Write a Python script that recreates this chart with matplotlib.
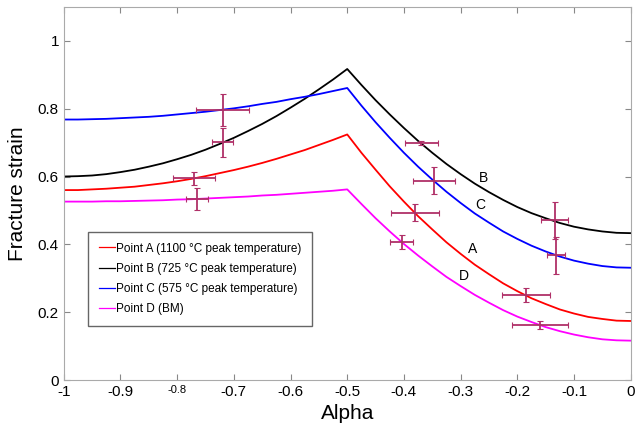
import matplotlib
matplotlib.use('Agg')
import matplotlib.pyplot as plt
import numpy as np

plt.rcParams.update({
    'font.family': ['Liberation Sans', 'DejaVu Sans'],
    'axes.unicode_minus': False,
})

# curve samples
ALPHA = [-1.0, -0.975, -0.95, -0.925, -0.9, -0.875, -0.85, -0.825, -0.8, -0.775,
         -0.75, -0.725, -0.7, -0.675, -0.65, -0.625, -0.6, -0.575, -0.55, -0.525,
         -0.5, -0.475, -0.45, -0.425, -0.4, -0.375, -0.35, -0.325, -0.3, -0.275,
         -0.25, -0.225, -0.2, -0.175, -0.15, -0.125, -0.1, -0.075, -0.05, -0.025, 0.0]
STRAIN_A = [0.560, 0.560, 0.562, 0.564, 0.567, 0.570, 0.575, 0.580, 0.586, 0.593,
            0.601, 0.610, 0.619, 0.629, 0.640, 0.652, 0.665, 0.678, 0.693, 0.708,
            0.724, 0.670, 0.620, 0.571, 0.526, 0.483, 0.444, 0.406, 0.372, 0.340,
            0.312, 0.285, 0.262, 0.241, 0.224, 0.208, 0.196, 0.186, 0.180, 0.175, 0.174]
STRAIN_B = [0.600, 0.601, 0.603, 0.607, 0.613, 0.620, 0.629, 0.639, 0.651, 0.664,
            0.679, 0.696, 0.714, 0.734, 0.755, 0.778, 0.803, 0.829, 0.857, 0.886,
            0.917, 0.870, 0.825, 0.783, 0.743, 0.705, 0.670, 0.637, 0.607, 0.579,
            0.554, 0.531, 0.510, 0.492, 0.477, 0.463, 0.452, 0.444, 0.438, 0.434, 0.433]
STRAIN_C = [0.768, 0.768, 0.769, 0.770, 0.772, 0.774, 0.776, 0.779, 0.783, 0.787,
            0.791, 0.796, 0.801, 0.807, 0.814, 0.820, 0.828, 0.835, 0.843, 0.852,
            0.861, 0.809, 0.760, 0.714, 0.670, 0.629, 0.591, 0.555, 0.522, 0.491,
            0.464, 0.438, 0.416, 0.396, 0.379, 0.364, 0.352, 0.343, 0.336, 0.332, 0.331]
STRAIN_D = [0.526, 0.526, 0.526, 0.527, 0.527, 0.528, 0.529, 0.530, 0.532, 0.533,
            0.535, 0.537, 0.539, 0.541, 0.544, 0.546, 0.549, 0.552, 0.555, 0.558,
            0.562, 0.519, 0.477, 0.438, 0.401, 0.367, 0.335, 0.304, 0.277, 0.251,
            0.228, 0.206, 0.187, 0.171, 0.156, 0.144, 0.134, 0.126, 0.120, 0.117, 0.116]

LABELS = ["Point A (1100 °C peak temperature)",
          "Point B (725 °C peak temperature)",
          "Point C (575 °C peak temperature)",
          "Point D (BM)"]
COLORS = ["#ff0000", "#000000", "#0000ff", "#ff00ff"]

# experimental points with error bars
EXP_X = [-0.72, -0.72, -0.77, -0.765, -0.369, -0.347, -0.381, -0.404, -0.134, -0.131, -0.185, -0.16]
EXP_Y = [0.796, 0.701, 0.595, 0.534, 0.698, 0.588, 0.493, 0.407, 0.471, 0.368, 0.250, 0.162]
EXP_XERR = [0.046, 0.018, 0.037, 0.019, 0.029, 0.037, 0.042, 0.020, 0.024, 0.016, 0.042, 0.050]
EXP_YERR = [0.047, 0.043, 0.019, 0.032, 0.006, 0.040, 0.025, 0.022, 0.054, 0.055, 0.020, 0.013]

CURVE_TAGS = ["B", "C", "A", "D"]
TAG_X = [-0.259, -0.265, -0.279, -0.294]
TAG_Y = [0.596, 0.515, 0.385, 0.307]

fig = plt.figure(figsize=(6.39, 4.33), dpi=100)
ax = fig.add_axes([0.0998, 0.1224, 0.8872, 0.8616])

for ys, lab, col in zip([STRAIN_A, STRAIN_B, STRAIN_C, STRAIN_D], LABELS, COLORS):
    ax.plot(ALPHA, ys, color=col, linewidth=1.3, label=lab)

eb = ax.errorbar(EXP_X, EXP_Y, xerr=EXP_XERR, yerr=EXP_YERR, fmt='none',
                 ecolor='#b03068', elinewidth=1.3, capsize=2, capthick=0.8)
for cap in eb[1]:
    cap.set_color('#7fb0e0')

for tag, tx, ty in zip(CURVE_TAGS, TAG_X, TAG_Y):
    ax.text(tx, ty, tag, fontsize=10, ha='center', va='center')

ax.set_xlim(-1, 0)
ax.set_ylim(0, 1.1)
xt = [-1, -0.9, -0.8, -0.7, -0.6, -0.5, -0.4, -0.3, -0.2, -0.1, 0]
ax.set_xticks(xt)
ax.set_xticklabels([f"{v:g}" for v in xt], fontsize=11)
ax.get_xticklabels()[2].set_fontsize(8)
ax.set_yticks([0, 0.2, 0.4, 0.6, 0.8, 1.0])
ax.set_yticklabels(["0", "0.2", "0.4", "0.6", "0.8", "1"], fontsize=11)
ax.tick_params(direction='in', top=True, right=True, length=4, color='#888888')
for sp in ax.spines.values():
    sp.set_color('#aaaaaa')

ax.set_xlabel("Alpha", fontsize=15)
ax.set_ylabel("Fracture strain", fontsize=15, labelpad=8)

leg = ax.legend(loc='upper left', bbox_to_anchor=(0.043, 0.397), fontsize=8.5,
                handlelength=1.4, handletextpad=0.1, labelspacing=0.7,
                borderpad=0.9, borderaxespad=0,
                fancybox=False, edgecolor='#666666', framealpha=1)
for line in leg.get_lines():
    line.set_linewidth(0.9)

fig.savefig("out.png", dpi=100)
